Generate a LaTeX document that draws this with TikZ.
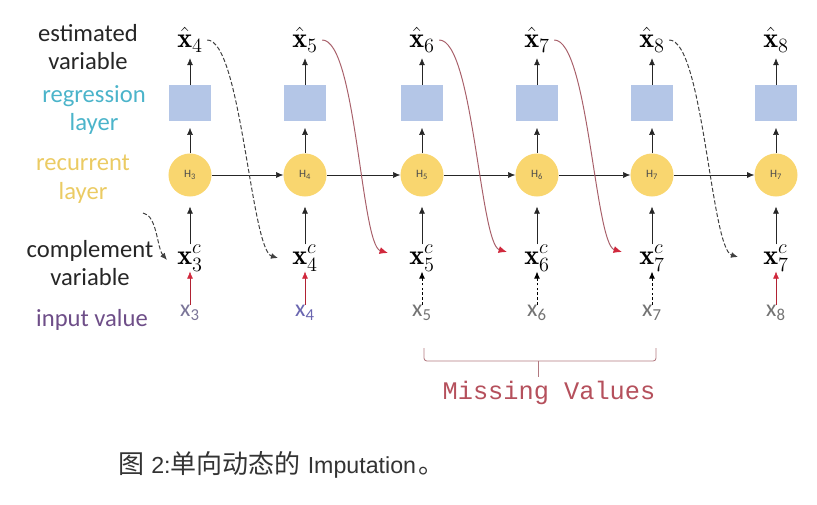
\documentclass[tikz,border=0pt]{standalone}
\usepackage{fontspec}
\newfontfamily\lblfont{Carlito}
\newfontfamily\capfont{Liberation Sans}
\newfontfamily\monofont{Liberation Mono}
\newfontfamily\cjk{Noto Sans CJK SC}
\usetikzlibrary{arrows.meta}
\definecolor{regblue}{HTML}{B4C6E7}
\definecolor{recyellow}{HTML}{F9D66F}
\definecolor{tealtxt}{HTML}{4BB4CA}
\definecolor{yellowtxt}{HTML}{EBCB63}
\definecolor{purpletxt}{HTML}{6E4E88}
\definecolor{feedred}{HTML}{A8606A}
\definecolor{tipred}{HTML}{D0283C}
\definecolor{missred}{HTML}{B5505C}
\definecolor{inputgray}{HTML}{7A7598}
\definecolor{inputblue}{HTML}{6A66B0}
\tikzset{>={Latex[length=5pt,width=4.2pt]},line width=.8pt,
  every node/.style={inner sep=0pt},
  sidelabel/.style={font=\lblfont\fontsize{17.5}{20.5}\selectfont,align=center},
  hatvar/.style={font=\fontsize{20}{24}\selectfont},
  compvar/.style={font=\fontsize{20}{24}\selectfont},
  regbox/.style={fill=regblue,minimum width=1.05cm,minimum height=.875cm},
  hcell/.style={circle,fill=recyellow,minimum size=1.075cm,
    font=\lblfont\fontsize{8}{8}\selectfont,text=black!70},
  inval/.style={font=\lblfont\fontsize{17}{17}\selectfont,text=black!55},
  uparrow/.style={->,draw=black!85},
  redup/.style={draw=tipred!85!black,-{Latex[length=5pt,width=4.2pt,color=tipred]}},
  dashup/.style={->,dash pattern=on 2pt off 1.5pt,line width=.6pt},
  feed/.style={draw=feedred,line width=.7pt,shorten <=3pt,
    -{Latex[length=6pt,width=5pt,color=tipred]}},
  feedgray/.style={draw=black!75,dash pattern=on 3pt off 1.5pt,line width=.7pt,
    shorten <=3pt,->}}
\begin{document}
\begin{tikzpicture}[x=.025cm,y=-.025cm]
\path[use as bounding box] (0,0) rectangle (817,505);

\node[sidelabel,text=black!85] (lest) at (88,47) {estimated\\variable};
\node[sidelabel,text=tealtxt] (lreg) at (94,110) {regression\\layer};
\node[sidelabel,text=yellowtxt] (lrec) at (83,179) {recurrent\\layer};
\node[sidelabel,text=black!85] (lcomp) at (90,263) {complement\\variable};
\node[sidelabel,text=purpletxt] (lin) at (92,320) {input value};

\node[hatvar] (xh1) at (190,40) {$\hat{\mathbf{x}}_4$};
\node[hatvar] (xh2) at (305,40) {$\hat{\mathbf{x}}_5$};
\node[hatvar] (xh3) at (422,40) {$\hat{\mathbf{x}}_6$};
\node[hatvar] (xh4) at (537,40) {$\hat{\mathbf{x}}_7$};
\node[hatvar] (xh5) at (652,40) {$\hat{\mathbf{x}}_8$};
\node[hatvar] (xh6) at (776,40) {$\hat{\mathbf{x}}_8$};

\node[regbox] (rg1) at (190,103) {};\node[regbox] (rg2) at (305,103) {};
\node[regbox] (rg3) at (422,103) {};\node[regbox] (rg4) at (537,103) {};
\node[regbox] (rg5) at (652,103) {};\node[regbox] (rg6) at (776,103) {};

\node[hcell] (h1) at (190,175) {H\textsubscript{3}};
\node[hcell] (h2) at (305,175) {H\textsubscript{4}};
\node[hcell] (h3) at (422,175) {H\textsubscript{5}};
\node[hcell] (h4) at (537,175) {H\textsubscript{6}};
\node[hcell] (h5) at (652,175) {H\textsubscript{7}};
\node[hcell] (h6) at (776,175) {H\textsubscript{7}};

\node[compvar] (xc1) at (190,258) {$\mathbf{x}^c_3$};
\node[compvar] (xc2) at (305,258) {$\mathbf{x}^c_4$};
\node[compvar] (xc3) at (422,258) {$\mathbf{x}^c_5$};
\node[compvar] (xc4) at (537,258) {$\mathbf{x}^c_6$};
\node[compvar] (xc5) at (652,258) {$\mathbf{x}^c_7$};
\node[compvar] (xc6) at (776,258) {$\mathbf{x}^c_7$};

\node[inval,text=inputgray] (xi1) at (190,313) {x\textsubscript{3}};
\node[inval,text=inputblue] (xi2) at (305,313) {x\textsubscript{4}};
\node[inval] (xi3) at (422,313) {x\textsubscript{5}};
\node[inval] (xi4) at (537,313) {x\textsubscript{6}};
\node[inval] (xi5) at (652,313) {x\textsubscript{7}};
\node[inval] (xi6) at (776,313) {x\textsubscript{8}};

\foreach \i in {1,...,6}{
  \draw[uparrow,shorten >=4pt] (rg\i) -- (xh\i);
  \draw[uparrow,shorten >=5pt] (h\i) -- (rg\i);
  \draw[uparrow,shorten >=7pt] (xc\i) -- (h\i);}
\draw[uparrow] (h1) -- (h2);\draw[uparrow] (h2) -- (h3);\draw[uparrow] (h3) -- (h4);
\draw[uparrow] (h4) -- (h5);\draw[uparrow] (h5) -- (h6);

\draw[redup] (xi1) -- (xc1);\draw[redup] (xi2) -- (xc2);\draw[redup] (xi6) -- (xc6);
\draw[dashup] (xi3) -- (xc3);\draw[dashup] (xi4) -- (xc4);\draw[dashup] (xi5) -- (xc5);

\coordinate (fs0) at (143,213);\coordinate (fe1) at (167,260);
\coordinate (fe2) at (278,258);\coordinate (fe3) at (388,253);
\coordinate (fe4) at (507,252);\coordinate (fe5) at (622,252);
\coordinate (fe6) at (738,257);
\draw[feedgray,shorten <=0pt] (fs0) .. controls +(14,2) and +(-10,-12) .. (fe1);
\draw[feedgray] (xh1.east) .. controls +(38,0) and +(-27,-8) .. (fe2);
\draw[feed] (xh2.east) .. controls +(38,0) and +(-27,-8) .. (fe3);
\draw[feed] (xh3.east) .. controls +(38,0) and +(-27,-8) .. (fe4);
\draw[feed] (xh4.east) .. controls +(38,0) and +(-27,-8) .. (fe5);
\draw[feedgray] (xh5.east) .. controls +(38,0) and +(-27,-8) .. (fe6);

\draw[missred!80!black!70,line width=.6pt,rounded corners=2pt]
  (424,348) |- (538,361) -| (656,348);
\draw[missred!80!black!70,line width=.6pt] (538,361) -- (538,377);
\node[font=\monofont\fontsize{18}{18}\selectfont,text=missred] (miss) at (549,393) {Missing Values};

\node[anchor=west,text=black!80,font=\fontsize{16.5}{16.5}\selectfont] (cap) at (118,465)
  {{\cjk\fontsize{18.5}{18.5}\selectfont 图}\ {\capfont 2:}{\cjk\fontsize{18.5}{18.5}\selectfont 单向动态的}\hspace{5pt}{\capfont Imputation}\hspace{2pt}{\cjk\fontsize{18.5}{18.5}\selectfont 。}};
\end{tikzpicture}
\end{document}
